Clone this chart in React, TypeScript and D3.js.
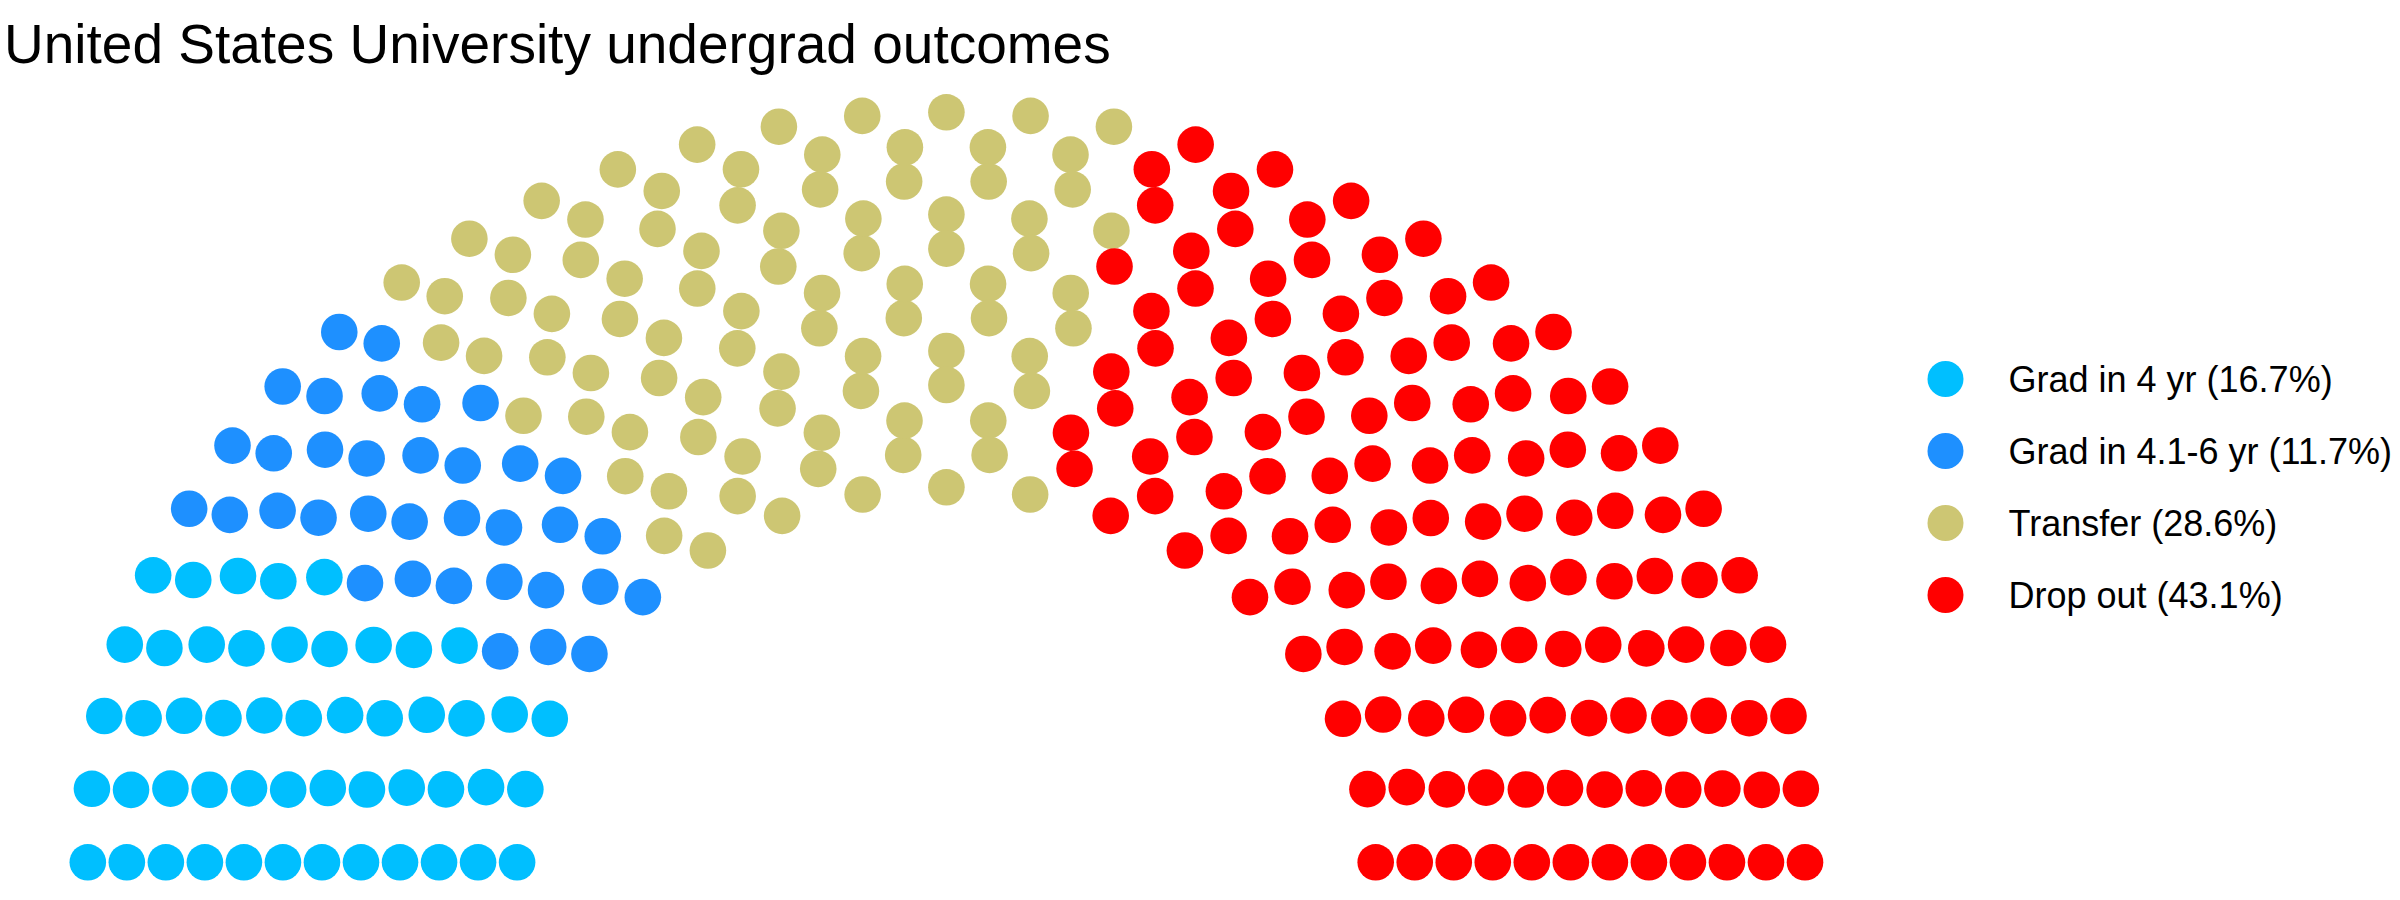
import React from "react";
import { scaleLinear, scaleOrdinal, range, sum } from "d3";

const title = "United States University undergrad outcomes";
const parties = ["Grad in 4 yr", "Grad in 4.1-6 yr", "Transfer", "Drop out"];
const shares = [16.7, 11.7, 28.6, 43.1];
const seats = [50, 35, 86, 129];
const colors = ["#00BFFF", "#1E90FF", "#CDC673", "#FF0000"];
const parlRows = 12;

type Seat = { x: number; y: number; row: number; theta: number; party: string };

// semicircle parliament layout: rows between radius 1 and 2, seats per row proportional to radius
function parliamentSeats(): Seat[] {
  let n = sum(seats);
  const radii = range(parlRows).map((i) => 1 + i / (parlRows - 1));
  const pts: Omit<Seat, "party">[] = [];
  radii.forEach((r, i) => {
    const count = Math.round((n * r) / sum(radii.slice(i)));
    for (let k = 0; k < count; k++) {
      const theta = count > 1 ? (k * Math.PI) / (count - 1) : 0;
      pts.push({ x: r * Math.cos(theta), y: r * Math.sin(theta), row: i + 1, theta });
    }
    n -= count;
  });
  pts.sort((a, b) => {
    const d = b.theta - a.theta;
    if (Math.abs(d) > 1e-9) return d;
    return b.row - a.row;
  });
  const owner: string[] = [];
  parties.forEach((p, i) => {
    for (let k = 0; k < seats[i]; k++) owner.push(p);
  });
  return pts.map((p, i) => ({ ...p, party: owner[i] }));
}

export default function App() {
  const width = 2400;
  const height = 900;
  const x = scaleLinear().domain([-2, 2]).range([87.8, 1805]);
  const y = scaleLinear().domain([0, 2]).range([862.3, 112.3]);
  const color = scaleOrdinal<string, string>().domain(parties).range(colors);
  const data = parliamentSeats();
  const font = "'Liberation Sans', Arial, Helvetica, sans-serif";

  const legendX = 1945.5;
  const legendY = scaleLinear().domain([0, parties.length - 1]).range([379, 595]);

  return (
    <svg
      width={width}
      height={height}
      style={{ position: "absolute", left: 0, top: 0, background: "#fff" }}
      fontFamily={font}
    >
      <text x={4} y={63} fontSize={55} fill="#000">
        {title}
      </text>
      <g>
        {data.map((d, i) => (
          <circle key={i} cx={x(d.x)} cy={y(d.y)} r={18.3} fill={color(d.party)} />
        ))}
      </g>
      <g>
        {parties.map((p, i) => (
          <g key={p} transform={`translate(${legendX}, ${legendY(i)})`}>
            <circle r={18} fill={color(p)} />
            <text x={63} dy="0.35em" fontSize={36} fill="#000">
              {`${p} (${shares[i].toFixed(1)}%)`}
            </text>
          </g>
        ))}
      </g>
    </svg>
  );
}
